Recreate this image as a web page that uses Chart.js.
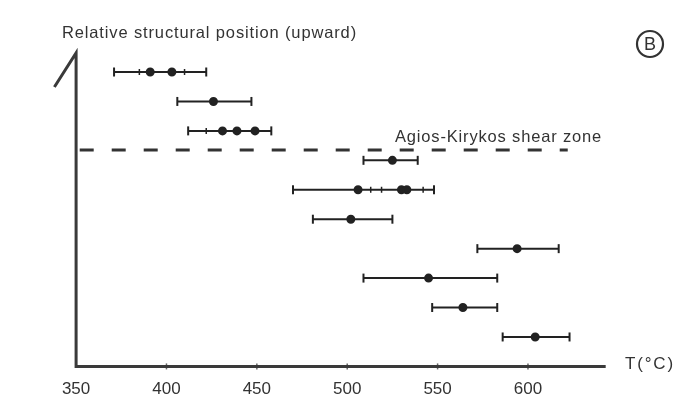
<!DOCTYPE html>
<html>
<head>
<meta charset="utf-8">
<script src="https://cdn.jsdelivr.net/npm/chart.js@4.4.1/dist/chart.umd.min.js"></script>
<style>
  body { margin: 0; background: #fff; }
  #wrap { width: 676px; height: 402px; }
</style>
</head>
<body>
<div id="wrap"><canvas id="grafico" width="676" height="402"></canvas></div>
<script>
// temperature samples, top row first (position 10 = highest structurally)
const rowPos = [10, 9, 8, 7, 6, 5, 4, 3, 2, 1];
const minT = [371, 406, 412, 509, 470, 481, 572, 509, 547, 586];
const maxT = [422, 447, 458, 539, 548, 525, 617, 583, 583, 623];
const dotT = [[391, 403], [426], [431, 439, 449], [525], [506, 530, 533], [502], [594], [545], [564], [604]];
const markT = [[385, 410], [], [422], [], [513, 519, 542], [], [], [], [], []];
const xTicks = [350, 400, 450, 500, 550, 600];
const shearZoneLevel = 7.35;
const shearZoneT = [352, 622];

const ink = '#222';
const datasets = [];

rowPos.forEach((y, i) => {
    const pts = [];
    pts.push({ x: minT[i], y: y, k: 'cap' });
    markT[i].forEach(t => pts.push({ x: t, y: y, k: 'mark' }));
    dotT[i].forEach(t => pts.push({ x: t, y: y, k: 'dot' }));
    pts.push({ x: maxT[i], y: y, k: 'cap' });
    pts.sort((a, b) => a.x - b.x);
    datasets.push({
        data: pts,
        borderColor: ink,
        backgroundColor: ink,
        borderWidth: 2,
        pointStyle: ctx => ctx.raw && ctx.raw.k === 'dot' ? 'circle' : 'line',
        pointRotation: ctx => ctx.raw && ctx.raw.k === 'dot' ? 0 : 90,
        pointRadius: ctx => ctx.raw && ctx.raw.k === 'dot' ? 3.5 : (ctx.raw && ctx.raw.k === 'cap' ? 4.5 : 3),
        pointBorderWidth: ctx => ctx.raw && ctx.raw.k === 'mark' ? 1.5 : 2,
        showLine: true
    });
});

// shear zone (dashed)
datasets.push({
    data: [{ x: shearZoneT[0], y: shearZoneLevel }, { x: shearZoneT[1], y: shearZoneLevel }],
    borderColor: '#333',
    borderWidth: 3,
    borderDash: [14, 18],
    pointRadius: 0,
    showLine: true
});

// axes drawn as lines
const axisColor = '#3a3a3a';
datasets.push({
    data: [{ x: 338, y: 9.49 }, { x: 350, y: 10.65 }, { x: 350, y: 0 }, { x: 643, y: 0 }],
    borderColor: axisColor,
    borderWidth: 3,
    pointRadius: 0,
    showLine: true
});
datasets.push({
    data: xTicks.slice(1).map(t => ({ x: t, y: 0 })),
    borderColor: '#666',
    pointStyle: 'line',
    pointRotation: 90,
    pointRadius: 3,
    pointBorderWidth: 1.5,
    showLine: false
});

// stretch text to the width it has in the figure
function fitText(c, txt, x, y, w) {
    c.letterSpacing = '0px';
    const m = c.measureText(txt).width;
    c.letterSpacing = Math.max(0, (w - m) / txt.length) + 'px';
    c.fillText(txt, x, y);
    c.letterSpacing = '0px';
}

const textos = {
    id: 'textos',
    afterDraw(chart) {
        const c = chart.ctx;
        c.save();
        c.fillStyle = '#333';
        c.textBaseline = 'middle';
        c.textAlign = 'left';
        c.font = '16.5px "Liberation Sans", Arial, sans-serif';
        fitText(c, 'Relative structural position (upward)', 62, 33, 295);
        fitText(c, 'Agios-Kirykos shear zone', 395, 137, 207);
        c.font = '17px "Liberation Sans", Arial, sans-serif';
        fitText(c, 'T(°C)', 625, 364, 50);
        c.lineWidth = 2.2;
        c.strokeStyle = '#333';
        c.beginPath();
        c.arc(650, 44, 13, 0, Math.PI * 2);
        c.stroke();
        c.font = '18px "Liberation Sans", Arial, sans-serif';
        c.textAlign = 'center';
        c.fillText('B', 650, 45);
        c.restore();
    }
};

new Chart(document.getElementById('grafico'), {
    type: 'scatter',
    data: { datasets: datasets },
    options: {
        responsive: false,
        animation: false,
        layout: { padding: 0, autoPadding: false },
        plugins: { legend: { display: false }, tooltip: { enabled: false } },
        scales: {
            x: {
                type: 'linear',
                min: 307.9,
                max: 681.9,
                afterBuildTicks: s => { s.ticks = xTicks.map(v => ({ value: v })); },
                afterFit: s => { s.height = 30; s.paddingLeft = 0; s.paddingRight = 0; },
                grid: { display: false, drawTicks: false },
                border: { display: false },
                ticks: {
                    color: '#333',
                    padding: 7,
                    maxRotation: 0,
                    font: { family: '"Liberation Sans", Arial, sans-serif', size: 17 }
                }
            },
            y: {
                display: false,
                min: -0.19,
                max: 12.446
            }
        }
    },
    plugins: [textos]
});
</script>
</body>
</html>
